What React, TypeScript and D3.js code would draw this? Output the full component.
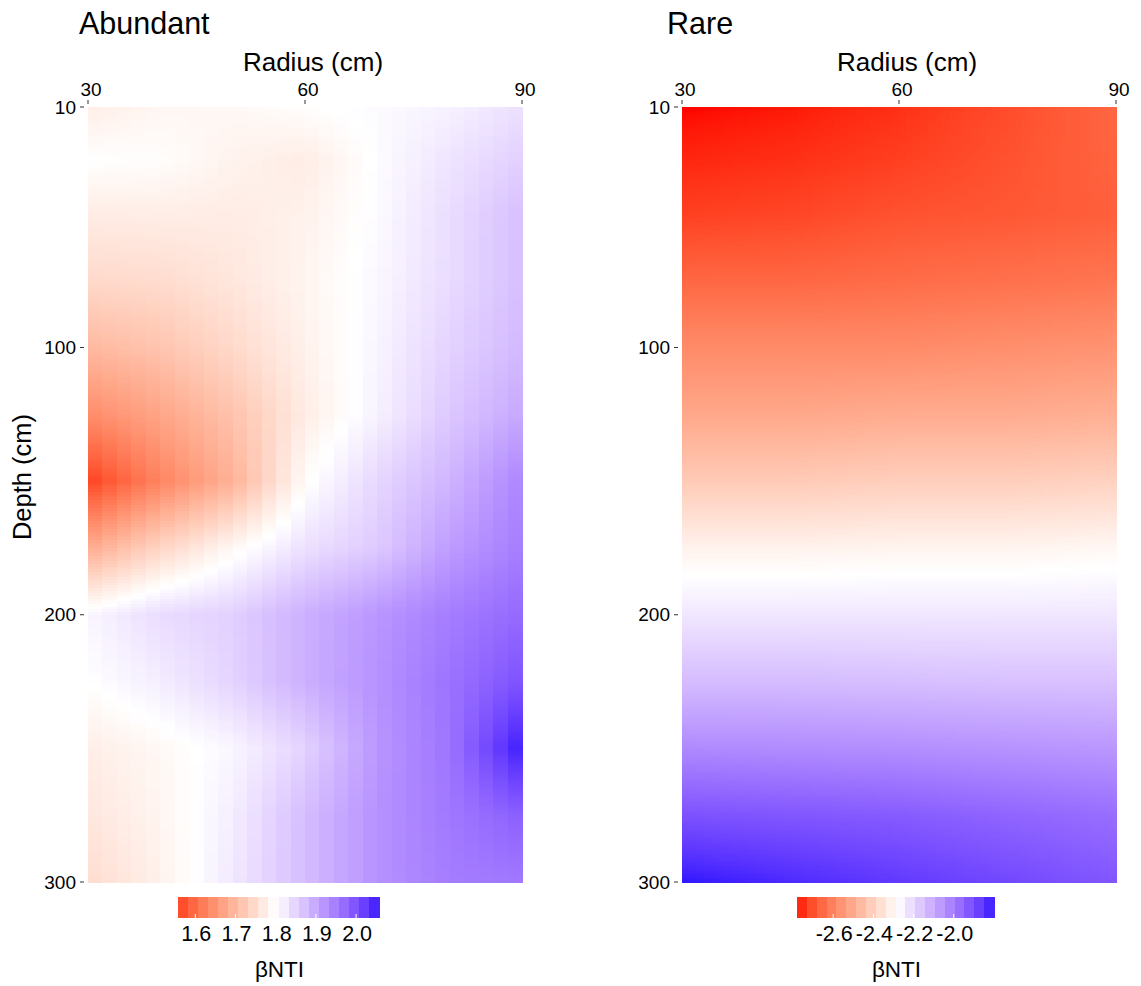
import React from "react";
import * as d3 from "d3";

// ---------- data (βNTI) ----------
const DEPTHS = [10, 30, 50, 75, 100, 125, 150, 175, 200, 225, 250, 275, 300];

const RADII_ABUNDANT = [30, 40, 50, 60, 70, 80, 90];
const BNTI_ABUNDANT = [
  [1.775, 1.788, 1.79, 1.798, 1.805, 1.815, 1.835],
  [1.8, 1.797, 1.782, 1.773, 1.803, 1.83, 1.854],
  [1.773, 1.775, 1.773, 1.78, 1.805, 1.838, 1.873],
  [1.746, 1.75, 1.765, 1.785, 1.808, 1.84, 1.873],
  [1.7, 1.716, 1.746, 1.78, 1.812, 1.85, 1.88],
  [1.64, 1.673, 1.714, 1.773, 1.815, 1.862, 1.9],
  [1.557, 1.63, 1.69, 1.795, 1.845, 1.885, 1.94],
  [1.68, 1.74, 1.79, 1.835, 1.86, 1.913, 1.95],
  [1.81, 1.84, 1.853, 1.89, 1.92, 1.95, 1.973],
  [1.8, 1.82, 1.85, 1.89, 1.925, 1.962, 2.0],
  [1.775, 1.79, 1.81, 1.85, 1.92, 1.96, 2.057],
  [1.765, 1.785, 1.82, 1.875, 1.925, 1.955, 1.985],
  [1.75, 1.78, 1.825, 1.875, 1.925, 1.95, 1.955],
];

const RADII_RARE = [30, 45, 60, 75, 90];
const BNTI_RARE = [
  [-2.78, -2.77, -2.75, -2.71, -2.66],
  [-2.76, -2.75, -2.73, -2.7, -2.665],
  [-2.73, -2.72, -2.7, -2.69, -2.675],
  [-2.66, -2.66, -2.65, -2.64, -2.63],
  [-2.58, -2.58, -2.58, -2.57, -2.56],
  [-2.51, -2.51, -2.5, -2.5, -2.49],
  [-2.42, -2.42, -2.41, -2.41, -2.4],
  [-2.315, -2.315, -2.31, -2.31, -2.3],
  [-2.23, -2.23, -2.23, -2.23, -2.23],
  [-2.14, -2.14, -2.145, -2.15, -2.15],
  [-2.03, -2.035, -2.04, -2.05, -2.06],
  [-1.91, -1.92, -1.93, -1.95, -1.97],
  [-1.8, -1.83, -1.86, -1.89, -1.92],
];

const X_TICKS = [30, 60, 90];
const Y_TICKS = [10, 100, 200, 300];
const LEGEND_TICKS_ABUNDANT = [1.6, 1.7, 1.8, 1.9, 2.0];
const LEGEND_TICKS_RARE = [-2.6, -2.4, -2.2, -2.0];
const COLOR_DOMAIN_ABUNDANT = [1.53, 1.8, 2.07];
const COLOR_DOMAIN_RARE = [-2.78, -2.28, -1.78];

// ---------- helpers ----------
function bilinear(xs: number[], ys: number[], grid: number[][], x: number, y: number) {
  const i = Math.min(Math.max(d3.bisectRight(xs, x) - 1, 0), xs.length - 2);
  const j = Math.min(Math.max(d3.bisectRight(ys, y) - 1, 0), ys.length - 2);
  const tx = (x - xs[i]) / (xs[i + 1] - xs[i]);
  const ty = (y - ys[j]) / (ys[j + 1] - ys[j]);
  const a = grid[j][i], b = grid[j][i + 1], c = grid[j + 1][i], d = grid[j + 1][i + 1];
  return a * (1 - tx) * (1 - ty) + b * tx * (1 - ty) + c * (1 - tx) * ty + d * tx * ty;
}

const FONT = "'Liberation Sans', Arial, Helvetica, sans-serif";
const Y0 = 107, Y1 = 882;

type PanelProps = {
  title: string;
  titleX: number;
  x0: number; x1: number;
  radii: number[]; values: number[][];
  colStep: number;
  colorDomain: number[];
  legendX0: number; legendX1: number;
  legendTicks: number[];
  showYTitle: boolean;
};

function Panel(p: PanelProps) {
  const x = d3.scaleLinear().domain([30, 90]).range([p.x0, p.x1]);
  const y = d3.scaleLinear().domain([10, 300]).range([Y0, Y1]);
  const color = d3.scaleLinear<string>()
    .domain(p.colorDomain)
    .range(["red", "white", "blue"])
    .interpolate(d3.interpolateLab)
    .clamp(true);

  const cells: JSX.Element[] = [];
  const rowStep = 1;
  for (let r = 30; r < 90 - 1e-9; r += p.colStep) {
    for (let d = 10; d < 300 - 1e-9; d += rowStep) {
      const v = bilinear(p.radii, DEPTHS, p.values, r + p.colStep / 2, d + rowStep / 2);
      const xa = x(r), xb = x(Math.min(r + p.colStep, 90));
      const ya = y(d), yb = y(d + rowStep);
      cells.push(
        <rect key={r + "_" + d} x={xa} y={ya} width={xb - xa + 0.6} height={yb - ya + 0.6} fill={color(v)} />
      );
    }
  }

  const flat = p.values.flat();
  const ext = d3.extent(flat) as [number, number];
  const nBins = 20;
  const lx = d3.scaleLinear().domain(ext).range([p.legendX0, p.legendX1]);
  const binW = (ext[1] - ext[0]) / nBins;
  const bins = d3.range(nBins).map((k) => ext[0] + binW * (k + 0.5));
  const LY0 = 897, LY1 = 918;
  const cx = (p.x0 + p.x1) / 2;
  const lcx = (p.legendX0 + p.legendX1) / 2;

  return (
    <g>
      <text x={p.titleX} y={34} fontSize={30.5} fontFamily={FONT} fill="#000">{p.title}</text>
      <text x={cx + 8} y={71} fontSize={26} fontFamily={FONT} textAnchor="middle" fill="#000">Radius (cm)</text>
      {p.showYTitle && (
        <text transform={`translate(31,477) rotate(-90)`} fontSize={25.5} fontFamily={FONT} textAnchor="middle" fill="#000">Depth (cm)</text>
      )}
      <g shapeRendering="crispEdges">{cells}</g>
      {X_TICKS.map((t) => (
        <g key={"xt" + t}>
          <line x1={x(t)} x2={x(t)} y1={100} y2={104} stroke="#333" strokeWidth={1} />
          <text x={x(t) + 3} y={96} fontSize={19} fontFamily={FONT} textAnchor="middle" fill="#000">{t}</text>
        </g>
      ))}
      {Y_TICKS.map((t) => (
        <g key={"yt" + t}>
          <line x1={p.x0 - 8} x2={p.x0 - 4} y1={y(t)} y2={y(t)} stroke="#333" strokeWidth={1} />
          <text x={p.x0 - 12} y={y(t) + 6.5} fontSize={19} fontFamily={FONT} textAnchor="end" fill="#000">{t}</text>
        </g>
      ))}
      <g shapeRendering="crispEdges">
        {bins.map((b, k) => (
          <rect key={"lb" + k} x={lx(ext[0] + binW * k)} y={LY0} width={lx(ext[0] + binW * (k + 1)) - lx(ext[0] + binW * k) + 0.5} height={LY1 - LY0} fill={color(b)} />
        ))}
      </g>
      {p.legendTicks.map((t) => (
        <g key={"lt" + t}>
          <line x1={lx(t)} x2={lx(t)} y1={LY1 - 4} y2={LY1} stroke="#fff" strokeWidth={1} />
          <text x={lx(t) + 1} y={941} fontSize={21.5} fontFamily={FONT} textAnchor="middle" fill="#000">{t.toFixed(1)}</text>
        </g>
      ))}
      <text x={lcx + 1} y={977} fontSize={22.5} fontFamily={FONT} textAnchor="middle" fill="#000">βNTI</text>
    </g>
  );
}

export default function App() {
  return (
    <svg width={1141} height={986} style={{ position: "absolute", left: 0, top: 0, background: "#fff" }}>
      <rect x={0} y={0} width={1141} height={986} fill="#fff" />
      <Panel
        title="Abundant" titleX={79} x0={88} x1={522}
        radii={RADII_ABUNDANT} values={BNTI_ABUNDANT} colStep={2}
        colorDomain={COLOR_DOMAIN_ABUNDANT}
        legendX0={178} legendX1={379} legendTicks={LEGEND_TICKS_ABUNDANT}
        showYTitle={true}
      />
      <Panel
        title="Rare" titleX={667} x0={682} x1={1116}
        radii={RADII_RARE} values={BNTI_RARE} colStep={1}
        colorDomain={COLOR_DOMAIN_RARE}
        legendX0={797} legendX1={994} legendTicks={LEGEND_TICKS_RARE}
        showYTitle={false}
      />
    </svg>
  );
}
